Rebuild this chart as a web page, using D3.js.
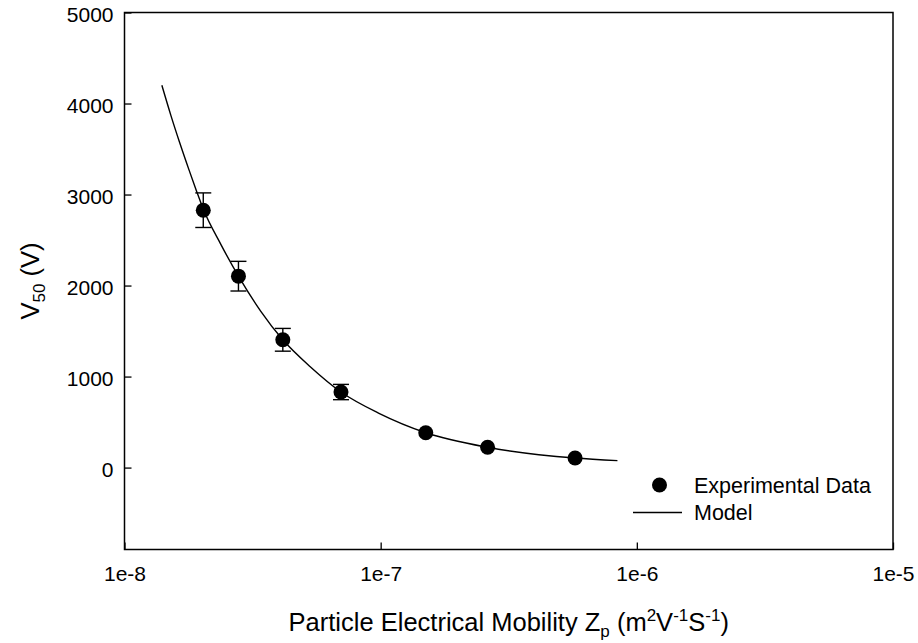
<!DOCTYPE html>
<html>
<head>
<meta charset="utf-8">
<script src="https://cdn.jsdelivr.net/npm/d3@7"></script>
<style>
  body { margin: 0; background: #fff; }
  svg { display: block; }
  text { font-family: "Liberation Sans", Arial, sans-serif; fill: #000; }
</style>
</head>
<body>
<svg id="chart" width="918" height="643"></svg>
<script>
// Experimental data
const expZ = [2.03e-8, 2.785e-8, 4.15e-8, 7.0e-8, 1.5e-7, 2.615e-7, 5.74e-7];
const expV = [2828, 2103, 1404, 830, 383, 223, 105];
const expErr = [190, 163, 125, 84, 0, 0, 0];

// Model curve
const modelZ = [1.399e-8, 1.517e-8, 1.639e-8, 1.78e-8, 1.916e-8, 2.03e-8, 2.38e-8, 2.785e-8, 3.4e-8, 4.15e-8, 5.31e-8, 7.0e-8, 9.85e-8, 1.5e-7, 2.615e-7, 5.74e-7, 8.4e-7];
const modelV = [4200, 3870, 3577, 3282, 3029, 2840, 2450, 2103, 1720, 1404, 1108, 830, 596, 383, 223, 105, 76];

// Axes
const xTicks = [1e-8, 1e-7, 1e-6, 1e-5];
const xTickLabels = ["1e-8", "1e-7", "1e-6", "1e-5"];
const yTicks = [0, 1000, 2000, 3000, 4000, 5000];
const xDomain = [1e-8, 1e-5];
const yDomain = [-900, 5000];

const svg = d3.select("#chart");
const L = 124.5, R = 893, T = 12.5, B = 549.5;

const x = d3.scaleLog().domain(xDomain).range([L, R]);
const y = d3.scaleLinear().domain(yDomain).range([B, T]);

// Ticks (inward)
const xAxis = d3.axisBottom(x).tickValues(xTicks).tickSize(-7).tickPadding(0)
  .tickFormat((d, i) => xTickLabels[i]);
const gx = svg.append("g").attr("transform", `translate(0,${B})`).call(xAxis);
gx.select(".domain").remove();
gx.selectAll(".tick line").attr("stroke", "#000").attr("stroke-width", 1.3);
gx.selectAll(".tick text").attr("font-size", 21).attr("dy", null).attr("y", 31.5);

const yAxis = d3.axisLeft(y).tickValues(yTicks).tickSize(-7).tickPadding(11)
  .tickFormat(d3.format("d"));
const gy = svg.append("g").attr("transform", `translate(${L},0)`).call(yAxis);
gy.select(".domain").remove();
gy.selectAll(".tick line").attr("stroke", "#000").attr("stroke-width", 1.3);
gy.selectAll(".tick text").attr("font-size", 21).attr("dy", "0.42em");

// Frame
svg.append("rect").attr("x", L).attr("y", T).attr("width", R - L).attr("height", B - T)
  .attr("fill", "none").attr("stroke", "#000").attr("stroke-width", 1.5);

// Model line
const model = modelZ.map((z, i) => [z, modelV[i]]);
svg.append("path").datum(model)
  .attr("fill", "none").attr("stroke", "#000").attr("stroke-width", 1.4)
  .attr("d", d3.line().x(d => x(d[0])).y(d => y(d[1])).curve(d3.curveMonotoneX));

// Error bars
const exp = expZ.map((z, i) => ({ z, v: expV[i], e: expErr[i] }));
const eb = svg.append("g").attr("stroke", "#000").attr("stroke-width", 1.4);
exp.filter(d => d.e > 0).forEach(d => {
  const cx = x(d.z);
  eb.append("line").attr("x1", cx).attr("x2", cx).attr("y1", y(d.v + d.e)).attr("y2", y(d.v - d.e));
  eb.append("line").attr("x1", cx - 8).attr("x2", cx + 8).attr("y1", y(d.v + d.e)).attr("y2", y(d.v + d.e));
  eb.append("line").attr("x1", cx - 8).attr("x2", cx + 8).attr("y1", y(d.v - d.e)).attr("y2", y(d.v - d.e));
});

// Points
svg.append("g").selectAll("circle").data(exp).join("circle")
  .attr("cx", d => x(d.z)).attr("cy", d => y(d.v)).attr("r", 7.5).attr("fill", "#000");

// Legend
svg.append("circle").attr("cx", 659.5).attr("cy", 485).attr("r", 7.5).attr("fill", "#000");
svg.append("text").attr("x", 694).attr("y", 493).attr("font-size", 21.5).text("Experimental Data");
svg.append("line").attr("x1", 633).attr("x2", 682).attr("y1", 512.5).attr("y2", 512.5)
  .attr("stroke", "#000").attr("stroke-width", 1.4);
svg.append("text").attr("x", 694).attr("y", 520).attr("font-size", 21.5).text("Model");

// X title
const xt = svg.append("text").attr("x", (L + R) / 2).attr("y", 631).attr("text-anchor", "middle")
  .attr("font-size", 25.5);
xt.append("tspan").text("Particle Electrical Mobility Z");
xt.append("tspan").attr("font-size", 17).attr("dy", 6).text("p");
xt.append("tspan").attr("dy", -6).text(" (m");
xt.append("tspan").attr("font-size", 17).attr("dy", -10).text("2");
xt.append("tspan").attr("dy", 10).text("V");
xt.append("tspan").attr("font-size", 17).attr("dy", -10).text("-1");
xt.append("tspan").attr("dy", 10).text("S");
xt.append("tspan").attr("font-size", 17).attr("dy", -10).text("-1");
xt.append("tspan").attr("dy", 10).text(")");

// Y title
const yt = svg.append("text").attr("transform", `translate(38.5,${(T + B) / 2}) rotate(-90)`)
  .attr("text-anchor", "middle").attr("font-size", 25.5);
yt.append("tspan").text("V");
yt.append("tspan").attr("font-size", 17).attr("dy", 6).text("50");
yt.append("tspan").attr("dy", -6).text(" (V)");
</script>
</body>
</html>
